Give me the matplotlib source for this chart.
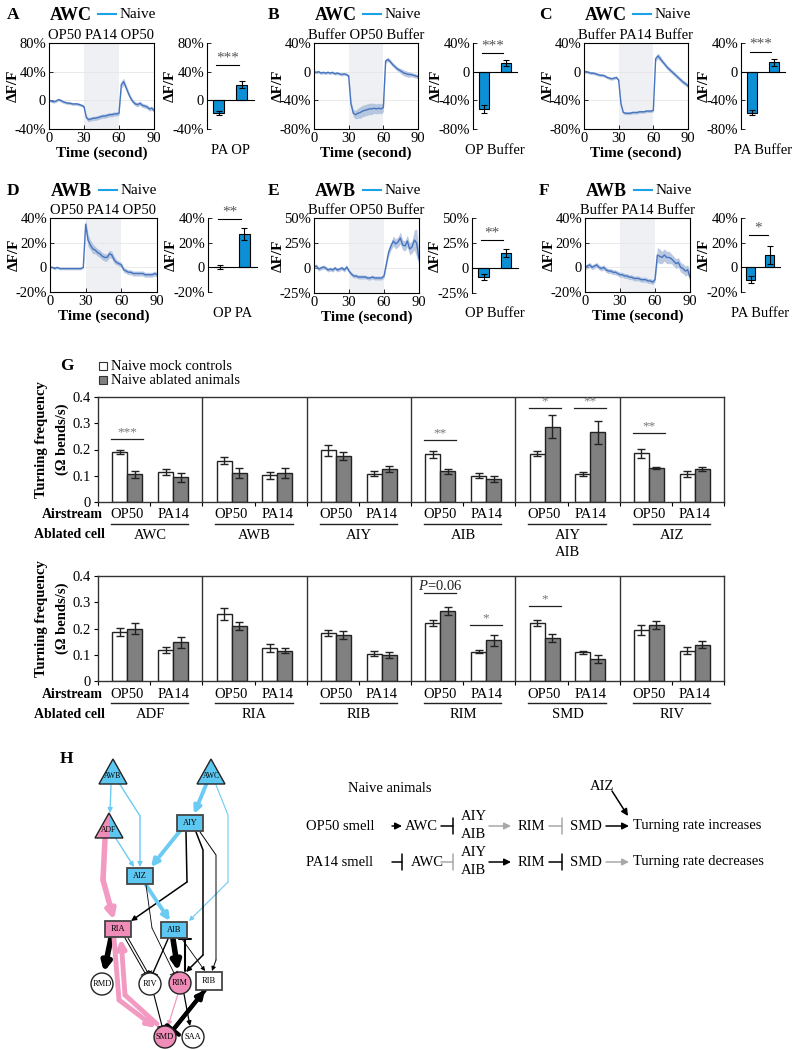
import numpy as np
import matplotlib
matplotlib.use("Agg")
import matplotlib.pyplot as plt
from matplotlib.patches import Rectangle, Circle, Polygon, ArrowStyle

plt.rcParams['font.family'] = ['Liberation Serif', 'DejaVu Serif']
plt.rcParams['mathtext.fontset'] = 'custom'
plt.rcParams['mathtext.it'] = 'Liberation Serif:italic'
plt.rcParams['mathtext.rm'] = 'Liberation Serif'

W, H = 809, 1050

# ---------------- data: calcium traces (% dF/F), sampled every 2 s ----------------
t = np.arange(0, 92, 2)

trace_A = [0, -1, -2, -1, 1, 0, -2, -3, -4, -4, -5, -5, -5, -6, -7, -9,
           -24, -27, -26, -25, -25, -24, -23, -22, -22, -21, -20, -20, -19, -19, -18,
           22, 26, 18, 10, 3, -2, -5, -6, -4, -7, -8, -9, -12, -11, -14]
sem_A = [2] * 16 + [3] * 15 + [5, 5, 4, 4, 3, 3, 3, 3, 3, 3, 3, 3, 3, 3, 3]

trace_B = [0, -1, 0, -2, -1, -2, -1, -2, -1, -3, -2, -3, -4, -3, -4, -6,
           -45, -58, -60, -58, -57, -55, -54, -53, -52, -52, -51, -52, -51, -52, -50,
           15, 17, 14, 10, 7, 4, 2, 0, -2, -3, -4, -4, -5, -6, -7]
sem_B = [2] * 16 + [4, 5, 6, 7, 8, 8, 8, 8, 8, 8, 7, 7, 7, 7, 6] + \
        [3, 3, 3, 3, 3, 3, 3, 4, 4, 4, 4, 3, 3, 3, 3]

trace_C = [0, 0, -1, -2, -2, -3, -4, -5, -5, -6, -8, -9, -10, -9, -8, -12,
           -45, -57, -58, -58, -58, -57, -57, -57, -56, -56, -56, -55, -55, -55, -54,
           18, 22, 18, 14, 10, 6, 3, 0, -3, -6, -9, -12, -15, -17, -20]
sem_C = [2] * 31 + [3, 4, 4, 3, 3, 3, 3, 3, 3, 3, 3, 3, 3, 3, 3]

trace_D = [0, 0, -1, 0, -1, -1, -1, -1, -1, -1, -1, -1, -1, -1, 0, 35,
           22, 18, 15, 14, 12, 11, 9, 8, 8, 11, 10, 6, 4, 3, 2,
           -2, -3, -4, -4, -5, -5, -5, -5, -5, -6, -6, -6, -6, -5, -6]
sem_D = [1] * 15 + [4] + [5, 4, 4, 3, 3, 3, 3, 3, 3, 3, 3, 3, 2, 2, 2] + [2] * 15

trace_E = [1, 2, -1, 0, 1, 0, -2, -1, -2, 0, -2, -1, 0, -2, 1, -3,
           -6, -8, -8, -9, -9, -9, -9, -10, -10, -9, -10, -10, -10, -10, -8,
           4, 16, 22, 27, 24, 26, 30, 23, 22, 27, 19, 21, 28, 25, 9]
sem_E = [2] * 31 + [3, 4, 4, 5, 5, 5, 6, 5, 5, 6, 6, 6, 10, 14, 6]

trace_F = [0, 1, 2, 0, 1, 2, 0, -1, 0, -2, -3, -3, -4, -4, -5, -6,
           -6, -7, -7, -8, -8, -9, -9, -9, -10, -10, -10, -11, -11, -12, -10,
           10, 9, 8, 10, 8, 8, 7, 5, 3, 4, 0, -1, -3, -2, -8]
sem_F = [2] * 31 + [6, 6, 5, 5, 5, 5, 4, 4, 4, 4, 4, 4, 4, 4, 4]

# mean responses (bar insets)
bar_A, err_A = [-18, 22], [3, 5]
bar_B, err_B = [-52, 12], [6, 4]
bar_C, err_C = [-57, 13], [3, 5]
bar_D, err_D = [0, 27], [1.5, 5]
bar_E, err_E = [-9, 15], [3, 4]
bar_F, err_F = [-10, 10], [3, 7]

ticks_A = [-40, 0, 40, 80]
ticks_BC = [-80, -40, 0, 40]
ticks_DF = [-20, 0, 20, 40]
ticks_E = [-25, 0, 25, 50]

# ---------------- data: panel G turning frequency ----------------
g1_cells = ["AWC", "AWB", "AIY", "AIB", "AIY\nAIB", "AIZ"]
g1_mock_op = [0.190, 0.158, 0.197, 0.182, 0.184, 0.185]
g1_mock_op_err = [0.008, 0.012, 0.022, 0.013, 0.010, 0.016]
g1_abl_op = [0.105, 0.110, 0.175, 0.117, 0.287, 0.131]
g1_abl_op_err = [0.015, 0.018, 0.016, 0.010, 0.043, 0.004]
g1_mock_pa = [0.115, 0.102, 0.108, 0.100, 0.107, 0.106]
g1_mock_pa_err = [0.012, 0.013, 0.010, 0.010, 0.009, 0.012]
g1_abl_pa = [0.094, 0.111, 0.126, 0.088, 0.265, 0.126]
g1_abl_pa_err = [0.017, 0.020, 0.013, 0.010, 0.044, 0.007]
g1_sig = [(0, 0, 0.240, "***"), (3, 0, 0.236, "**"), (4, 0, 0.358, "*"),
          (4, 1, 0.358, "**"), (5, 0, 0.263, "**")]

g2_cells = ["ADF", "RIA", "RIB", "RIM", "SMD", "RIV"]
g2_mock_op = [0.187, 0.255, 0.183, 0.220, 0.220, 0.194]
g2_mock_op_err = [0.014, 0.022, 0.011, 0.012, 0.012, 0.018]
g2_abl_op = [0.200, 0.208, 0.174, 0.268, 0.164, 0.212]
g2_abl_op_err = [0.020, 0.015, 0.015, 0.015, 0.015, 0.015]
g2_mock_pa = [0.118, 0.127, 0.104, 0.112, 0.110, 0.116]
g2_mock_pa_err = [0.013, 0.015, 0.010, 0.006, 0.006, 0.015]
g2_abl_pa = [0.147, 0.116, 0.099, 0.156, 0.085, 0.139]
g2_abl_pa_err = [0.020, 0.010, 0.012, 0.021, 0.015, 0.013]
g2_sig = [(3, 0, 0.334, "$P$=0.06"), (3, 1, 0.213, "*"), (4, 0, 0.287, "*")]

g_ticks = [0, 0.1, 0.2, 0.3, 0.4]
g_tick_labels = ["0", "0.1", "0.2", "0.3", "0.4"]

# ---------------- styles ----------------
TRACE = '#4674c0'
BAND = '#a3b8d8'
SHADE = '#eef0f4'
BARC = '#0c8fd4'
LEG = '#1aa3e8'
NBLUE = '#5cc8f2'
NPINK = '#f08cb8'
EBLUE = '#6ccbf2'
EPINK = '#f39ac2'

fig = plt.figure(figsize=(W / 100, H / 100), dpi=100)


def px_axes(x0, y0, x1, y1):
    return fig.add_axes([x0 / W, 1 - y1 / H, (x1 - x0) / W, (y1 - y0) / H])


def pct(v):
    return "0" if v == 0 else f"{v}%"


ov = fig.add_axes([0, 0, 1, 1], zorder=10)
ov.set_xlim(0, W)
ov.set_ylim(H, 0)
ov.axis('off')
ov.patch.set_visible(False)

#######################################################
# Panels A-F
#######################################################
panels = [
    ("A", "AWC", ["OP50", "PA14", "OP50"], trace_A, sem_A, ticks_A, bar_A, err_A, "PA OP", "***", 49,
     (49, 154), (207, 254), (43, 129), 7, 15),
    ("B", "AWC", ["Buffer", "OP50", "Buffer"], trace_B, sem_B, ticks_BC, bar_B, err_B, "OP Buffer", "***", 26,
     (314, 418), (473, 517), (43, 129), 268, 15),
    ("C", "AWC", ["Buffer", "PA14", "Buffer"], trace_C, sem_C, ticks_BC, bar_C, err_C, "PA Buffer", "***", 28,
     (584, 688), (741, 785), (43, 129), 539, 15),
    ("D", "AWB", ["OP50", "PA14", "OP50"], trace_D, sem_D, ticks_DF, bar_D, err_D, "OP PA", "**", 39,
     (50, 157), (208, 257), (218, 292), 7, 191),
    ("E", "AWB", ["Buffer", "OP50", "Buffer"], trace_E, sem_E, ticks_E, bar_E, err_E, "OP Buffer", "**", 28,
     (314, 419), (472, 518), (218, 293), 268, 191),
    ("F", "AWB", ["Buffer", "PA14", "Buffer"], trace_F, sem_F, ticks_DF, bar_F, err_F, "PA Buffer", "*", 26,
     (585, 690), (741, 780), (218, 292), 539, 191),
]

for (letter, cell, stim, y, sem, ticks, bvals, berrs, bname, stars, sig_y,
     trx, brx, rowy, lx, ty) in panels:
    y = np.array(y, dtype=float)
    sem = np.array(sem, dtype=float)
    ax = px_axes(trx[0], rowy[0], trx[1], rowy[1])
    ax.axvspan(30, 60, color=SHADE, lw=0, zorder=0)
    ax.fill_between(t, y - sem, y + sem, color=BAND, alpha=0.75, lw=0, zorder=1)
    ax.plot(t, y, color=TRACE, lw=1.0, zorder=2)
    ax.set_xlim(0, 90)
    ax.set_ylim(ticks[0], ticks[-1])
    ax.set_xticks([0, 30, 60, 90])
    ax.set_yticks(ticks)
    ax.set_yticklabels([pct(v) for v in ticks])
    ax.grid(axis='y', color='#e6e6e6', lw=0.6)
    ax.set_axisbelow(True)
    ax.tick_params(direction='in', length=3, width=0.6, labelsize=10.5, pad=2)
    for s in ax.spines.values():
        s.set_linewidth(0.8)
    ax.set_xlabel("Time (second)", fontweight='bold', fontsize=11, labelpad=1)
    ax.set_ylabel("ΔF/F", fontweight='bold', fontsize=11)
    ax.yaxis.set_label_coords(-29 / (trx[1] - trx[0]), 0.5)
    ax.text(45, 1.015, " ".join(stim), transform=ax.get_xaxis_transform(),
            ha='center', va='bottom', fontsize=10.5)

    bx = px_axes(brx[0], rowy[0], brx[1], rowy[1])
    bx.bar([0.25, 0.74], bvals, width=0.23, color=BARC, edgecolor='k', lw=0.8,
           yerr=berrs, capsize=2, error_kw=dict(lw=0.8, capthick=0.8), zorder=2)
    bx.set_xlim(0, 1)
    bx.set_ylim(ticks[0], ticks[-1])
    bx.set_yticks(ticks)
    bx.set_yticklabels([pct(v) for v in ticks])
    bx.set_xticks([])
    bx.spines['top'].set_visible(False)
    bx.spines['right'].set_visible(False)
    bx.spines['bottom'].set_position(('data', 0))
    bx.spines['left'].set_linewidth(0.8)
    bx.spines['bottom'].set_linewidth(0.8)
    bx.tick_params(direction='in', length=3, width=0.6, labelsize=10.5, pad=2)
    bx.set_ylabel("ΔF/F", fontweight='bold', fontsize=11)
    bx.yaxis.set_label_coords(-30 / (brx[1] - brx[0]), 0.5)
    bx.plot([0.2, 0.68], [sig_y, sig_y], color='k', lw=0.8, clip_on=False)
    bx.text(0.44, sig_y + (ticks[-1] - ticks[0]) * 0.01, stars, ha='center', va='bottom',
            fontsize=11, color='#555555', clip_on=False)
    bx.text(0.5, -21 / (rowy[1] - rowy[0]), bname, transform=bx.transAxes,
            ha='center', va='center', fontsize=10.5)

    ov.text(lx, ty, letter, fontweight='bold', fontsize=12.5, va='center', ha='left')
    ov.text(trx[0] + 1, ty, cell, fontweight='bold', fontsize=13, va='center', ha='left')
    ov.plot([trx[0] + 49, trx[0] + 67], [ty - 1, ty - 1], color=LEG, lw=1.5)
    ov.text(trx[0] + 71, ty, "Naive", fontsize=11, va='center', ha='left')

#######################################################
# Panel G
#######################################################
GX0, GX1 = 98, 724
GW = (GX1 - GX0) / 6.0
BW = 0.144


def draw_g(top, bottom, cells, m_op, m_op_e, a_op, a_op_e, m_pa, m_pa_e, a_pa, a_pa_e, sigs):
    ax = px_axes(GX0, top, GX1, bottom)
    g = np.arange(len(cells))
    series = [(m_op, m_op_e, 0.28 - BW / 2, 'white'),
              (a_op, a_op_e, 0.28 + BW / 2, '#808080'),
              (m_pa, m_pa_e, 0.72 - BW / 2, 'white'),
              (a_pa, a_pa_e, 0.72 + BW / 2, '#808080')]
    for vals, errs, off, col in series:
        ax.bar(g + off, vals, BW, yerr=errs, color=col, edgecolor='#222222', lw=1.0,
               capsize=3, error_kw=dict(lw=1.0, capthick=1.0, ecolor='#222222'))
    for i in range(1, 6):
        ax.axvline(i, color='#333333', lw=1.0)
    ax.set_xlim(0, 6)
    ax.set_ylim(0, 0.4)
    ax.set_yticks(g_ticks)
    ax.set_yticklabels(g_tick_labels)
    ax.set_xticks(np.arange(0, 6.01, 0.5))
    ax.set_xticklabels([])
    ax.tick_params(direction='out', length=3, width=0.8, labelsize=10.5, pad=2)
    for s in ax.spines.values():
        s.set_linewidth(1.0)
        s.set_color('#333333')
    for gi, pair, yv, lab in sigs:
        c = gi + (0.28 if pair == 0 else 0.72)
        ax.plot([c - 0.153, c + 0.153], [yv, yv], color='#222222', lw=0.9, clip_on=False)
        if lab.startswith('$'):
            ax.text(c, yv + 0.002, lab, ha='center', va='bottom', fontsize=10.5, color='#222222')
        else:
            ax.text(c, yv + 0.002, lab, ha='center', va='bottom', fontsize=9.5, color='#777777')

    # labels below axis
    ov.text(GX0 + 5, bottom + 13, "Airstream", fontweight='bold', fontsize=10,
            ha='right', va='center')
    ov.text(GX0 + 7, bottom + 33, "Ablated cell", fontweight='bold', fontsize=10,
            ha='right', va='center')
    for gi, name in enumerate(cells):
        ov.text(GX0 + (gi + 0.28) * GW, bottom + 13, "OP50", fontsize=10.5, ha='center', va='center')
        ov.text(GX0 + (gi + 0.72) * GW, bottom + 13, "PA14", fontsize=10.5, ha='center', va='center')
        ov.plot([GX0 + (gi + 0.125) * GW, GX0 + (gi + 0.865) * GW], [bottom + 22, bottom + 22],
                color='#222222', lw=1.0)
        ov.text(GX0 + (gi + 0.5) * GW, bottom + 27, name, fontsize=10.5, ha='center', va='top',
                linespacing=1.35)
    mid = (top + bottom) / 2 - 10
    ov.text(42, mid, "Turning frequency", rotation=90, fontweight='bold', fontsize=10.5,
            ha='center', va='center')
    ov.text(62, mid, "(Ω bends/s)", rotation=90, fontweight='bold', fontsize=10.5,
            ha='center', va='center')


draw_g(397, 502, g1_cells, g1_mock_op, g1_mock_op_err, g1_abl_op, g1_abl_op_err,
       g1_mock_pa, g1_mock_pa_err, g1_abl_pa, g1_abl_pa_err, g1_sig)
draw_g(576, 681, g2_cells, g2_mock_op, g2_mock_op_err, g2_abl_op, g2_abl_op_err,
       g2_mock_pa, g2_mock_pa_err, g2_abl_pa, g2_abl_pa_err, g2_sig)

ov.text(60, 366, "G", fontweight='bold', fontsize=12.5, va='center')
ov.add_patch(Rectangle((99, 362), 8, 8, facecolor='white', edgecolor='#333333', lw=0.8))
ov.add_patch(Rectangle((99, 376), 8, 8, facecolor='#808080', edgecolor='#333333', lw=0.8))
ov.text(111, 366, "Naive mock controls", fontsize=10.5, va='center')
ov.text(111, 380, "Naive ablated animals", fontsize=10.5, va='center')

#######################################################
# Panel H: network
#######################################################
ov.text(60, 759, "H", fontweight='bold', fontsize=12.5, va='center')


def arrow(p0, p1, color, lw, style='-|>', ms=None, z=2):
    if ms is None:
        ms = 5 + 2 * lw
    if style == 'bar':
        st = ArrowStyle('-[', widthB=0.5, lengthB=0.0)
    else:
        st = style
    ov.annotate('', xy=p1, xytext=p0,
                arrowprops=dict(arrowstyle=st, color=color, lw=lw, shrinkA=0, shrinkB=0,
                                mutation_scale=ms), zorder=z)


def edge(pts, color, lw, style='-|>'):
    xs = [p[0] for p in pts[:-1]]
    ys = [p[1] for p in pts[:-1]]
    if len(pts) > 2:
        ov.plot(xs, ys, color=color, lw=lw, solid_capstyle='round', zorder=2)
    arrow(pts[-2], pts[-1], color, lw, style)


def tri(cx, cy, label, fill=NBLUE, half=None):
    pts = [(cx - 14, cy + 12), (cx + 14, cy + 12), (cx, cy - 13)]
    if half:
        ov.add_patch(Polygon([(cx - 14, cy + 12), (cx, cy + 12), (cx, cy - 13)],
                             facecolor=half, edgecolor='none', zorder=4))
        ov.add_patch(Polygon([(cx, cy + 12), (cx + 14, cy + 12), (cx, cy - 13)],
                             facecolor=fill, edgecolor='none', zorder=4))
        ov.add_patch(Polygon(pts, facecolor='none', edgecolor='#222222', lw=1.0, zorder=5))
    else:
        ov.add_patch(Polygon(pts, facecolor=fill, edgecolor='#222222', lw=1.0, zorder=4))
    ov.text(cx, cy + 4, label, fontsize=5.5, ha='center', va='center', zorder=6)


def box(cx, cy, label, fill, w=26, h=16):
    ov.add_patch(Rectangle((cx - w / 2, cy - h / 2), w, h, facecolor=fill,
                           edgecolor='#444444', lw=1.3, zorder=4))
    ov.text(cx, cy, label, fontsize=6, ha='center', va='center', zorder=6)


def circ(cx, cy, label, fill='white', r=11):
    ov.add_patch(Circle((cx, cy), r, facecolor=fill, edgecolor='#222222', lw=1.0, zorder=4))
    ov.text(cx, cy, label, fontsize=6, ha='center', va='center', zorder=6)


# edges
edge([(111, 785), (110, 813)], EBLUE, 1.0)
edge([(119, 783), (140, 816), (140, 867)], EBLUE, 1.0)
edge([(206, 785), (194, 814)], EBLUE, 2.8)
edge([(216, 785), (228, 815), (228, 882), (189, 921)], EBLUE, 0.8)
edge([(115, 837), (134, 867)], EBLUE, 1.0)
edge([(180, 831), (151, 867)], EBLUE, 2.8)
edge([(105, 839), (103, 880), (114, 920)], EPINK, 4.0)
edge([(186, 832), (187, 882), (131, 921)], 'k', 1.1)
edge([(196, 832), (203, 850), (203, 955), (186, 972)], 'k', 1.1)
edge([(200, 832), (216, 855), (216, 960), (212, 971)], 'k', 0.7)
edge([(146, 885), (170, 921)], EBLUE, 2.8)
edge([(146, 885), (152, 928), (174, 973)], 'k', 0.6, 'bar')
edge([(111, 938), (104, 972)], 'k', 4.0)
edge([(125, 938), (145, 973)], 'k', 0.7, 'bar')
edge([(128, 938), (148, 973)], 'k', 0.7, 'bar')
edge([(114, 938), (119, 1000), (156, 1028)], EPINK, 3.5)
edge([(157, 1024), (125, 995), (121, 939)], EPINK, 3.5)
edge([(168, 939), (153, 973)], 'k', 1.0, 'bar')
edge([(173, 939), (178, 971)], 'k', 4.0)
edge([(185, 971), (185, 939)], 'k', 1.5, 'bar')
edge([(182, 939), (205, 971)], 'k', 0.6)
edge([(154, 995), (162, 1026)], 'k', 0.8, 'bar')
edge([(178, 994), (168, 1026)], EPINK, 0.9)
edge([(184, 994), (190, 1026)], 'k', 0.9)
edge([(205, 990), (173, 1030)], 'k', 3.0, 'bar')
edge([(173, 1030), (205, 990)], 'k', 3.0)

# nodes
tri(113, 772, "AWB")
tri(211, 772, "AWC")
tri(109, 826, "ADF", fill=NBLUE, half=NPINK)
box(190, 823, "AIY", NBLUE)
box(140, 876, "AIZ", NBLUE)
box(118, 929, "RIA", NPINK)
box(174, 930, "AIB", NBLUE)
box(209, 981, "RIB", 'white', w=26, h=18)
circ(102, 984, "RMD")
circ(150, 984, "RIV")
circ(180, 983, "RIM", NPINK)
circ(165, 1037, "SMD", NPINK)
circ(193, 1037, "SAA")

#######################################################
# Panel H: schematic
#######################################################
GRAY = '#a8a8a8'
FS = 10.5
ov.text(348, 788, "Naive animals", fontsize=FS, va='center')
ov.text(590, 787, "AIZ", fontsize=FS, va='center')
arrow((612, 791), (628, 816), 'k', 1.1, ms=10)

rows = [
    (826, "OP50 smell", ('k', '-|>'), 405, ('k', 'bar'), (GRAY, '-|>'), (GRAY, 'bar'), ('k', '-|>'),
     "Turning rate increases"),
    (862, "PA14 smell", ('k', 'bar'), 411, (GRAY, 'bar'), ('k', '-|>'), ('k', 'bar'), (GRAY, '-|>'),
     "Turning rate decreases"),
]
for ry, src, a1, awc_x, a2, a3, a4, a5, outcome in rows:
    ov.text(306, ry, src, fontsize=FS, va='center')
    arrow((392, ry), (402, ry), a1[0], 1.1, a1[1], ms=10 if a1[1] != 'bar' else 12)
    ov.text(awc_x, ry, "AWC", fontsize=FS, va='center')
    arrow((441, ry), (453, ry), a2[0], 1.1, a2[1], ms=12)
    ov.text(461, ry - 10, "AIY", fontsize=FS, va='center')
    ov.text(461, ry + 9, "AIB", fontsize=FS, va='center')
    arrow((489, ry), (511, ry), a3[0], 1.1, a3[1], ms=10)
    ov.text(518, ry, "RIM", fontsize=FS, va='center')
    arrow((549, ry), (562, ry), a4[0], 1.1, a4[1], ms=12)
    ov.text(570, ry, "SMD", fontsize=FS, va='center')
    arrow((606, ry), (629, ry), a5[0], 1.1, a5[1], ms=10)
    ov.text(633, ry, outcome, fontsize=FS, va='center')

fig.savefig("out.png", dpi=100)
